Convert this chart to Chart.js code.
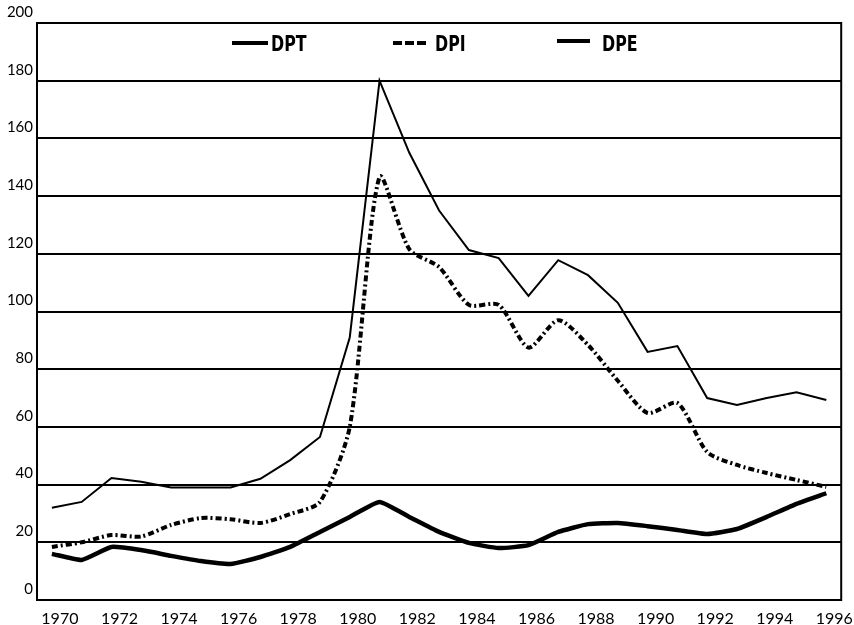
<!DOCTYPE html>
<html>
<head>
<meta charset="utf-8">
<title>DPT / DPI / DPE 1970-1996</title>
<script src="https://cdn.jsdelivr.net/npm/chart.js@4/dist/chart.umd.min.js"></script>
<style>
  html, body { margin: 0; padding: 0; background: #fff; }
  #chart { display: block; }
</style>
</head>
<body>
<canvas id="chart" width="854" height="625"></canvas>
<script>
'use strict';

// Data
const years = ['1970','1971','1972','1973','1974','1975','1976','1977','1978','1979',
               '1980','1981','1982','1983','1984','1985','1986','1987','1988','1989',
               '1990','1991','1992','1993','1994','1995','1996'];
const tickYears = ['1970','1972','1974','1976','1978','1980','1982','1984','1986','1988','1990','1992','1994','1996'];
const seriesNames = ['DPT', 'DPI', 'DPE'];
const dpt = [32, 34, 42.3, 41, 39, 39, 39, 42, 48.5, 56.5,
             91, 180, 155, 135, 121.3, 118.5, 105.4, 117.8, 112.6, 103,
             86, 88, 70, 67.6, 70, 72, 69.3];
const dpi = [18.4, 20, 22.5, 22, 26, 28.4, 28, 26.7, 29.8, 34,
             60, 146.6, 121.6, 115.4, 102.3, 102.3, 87.5, 97, 88.4, 76,
             64.8, 68.3, 51.3, 46.8, 44, 41.6, 39.2];
const dpe = [16, 13.9, 18.4, 17.3, 15.3, 13.5, 12.5, 14.9, 18.4, 23.6,
             28.8, 34, 28.8, 23.6, 19.8, 18, 19, 23.6, 26.3, 26.7,
             25.6, 24.3, 22.9, 24.6, 28.8, 33.3, 37];

const tickFont = { family: 'Lato, "Open Sans", sans-serif', size: 15 };
const legendFont = 'bold 22px "Liberation Sans Narrow", "DejaVu Sans Condensed", Lato, sans-serif';

// frame around the plot area
const framePlugin = {
    id: 'frame',
    afterDraw(chart) {
        const a = chart.chartArea, ctx = chart.ctx;
        ctx.save();
        ctx.strokeStyle = '#000';
        ctx.lineWidth = 2;
        ctx.strokeRect(a.left, a.top, a.right - a.left, a.bottom - a.top);
        ctx.restore();
    }
};

// legend drawn inside the plot, along the top (text squeezed to look condensed)
const legendPlugin = {
    id: 'innerLegend',
    afterDraw(chart) {
        const a = chart.chartArea, ctx = chart.ctx;
        const items = [
            { x: 195, w: 36, dash: [], y: 43, gap: 3 },
            { x: 356, w: 34, dash: [9, 3], y: 43, gap: 8 },
            { x: 520, w: 33, dash: [], y: 41, gap: 12 }
        ];
        chart.data.datasets.forEach((ds, i) => {
            const it = items[i];
            const x0 = a.left + it.x;
            ctx.save();
            ctx.beginPath();
            ctx.strokeStyle = '#000';
            ctx.lineWidth = 4;
            ctx.setLineDash(it.dash);
            ctx.moveTo(x0, it.y);
            ctx.lineTo(x0 + it.w, it.y);
            ctx.stroke();
            ctx.setLineDash([]);
            ctx.translate(x0 + it.w + it.gap, 45);
            ctx.scale(0.8, 1);
            ctx.fillStyle = '#000';
            ctx.font = legendFont;
            ctx.textBaseline = 'middle';
            ctx.textAlign = 'left';
            ctx.fillText(ds.label, 0, 0);
            ctx.restore();
        });
    }
};

new Chart(document.getElementById('chart'), {
    type: 'line',
    data: {
        labels: years,
        datasets: [
            { label: seriesNames[0], data: dpt, borderColor: '#000', borderWidth: 2, tension: 0 },
            { label: seriesNames[1], data: dpi, borderColor: '#000', borderWidth: 4, borderDash: [6, 3, 2, 3], tension: 0.25 },
            { label: seriesNames[2], data: dpe, borderColor: '#000', borderWidth: 4.5, tension: 0.15 }
        ]
    },
    options: {
        responsive: false,
        devicePixelRatio: 1,
        animation: false,
        layout: { padding: { top: 23, right: 7, left: 0, bottom: 0 } },
        elements: { point: { radius: 0 }, line: { fill: false, borderCapStyle: 'butt' } },
        plugins: { legend: { display: false }, tooltip: { enabled: false } },
        scales: {
            x: {
                type: 'category',
                offset: true,
                grid: { display: false, drawTicks: false },
                border: { display: false },
                afterFit: s => { s.height = 25; },
                ticks: {
                    autoSkip: false,
                    maxRotation: 0,
                    padding: 9,
                    labelOffset: 8,
                    color: '#000',
                    font: { family: 'Lato, "Open Sans", sans-serif', size: 16 },
                    callback: (v, i) => tickYears.includes(years[i]) ? years[i] : ''
                }
            },
            y: {
                min: 0,
                max: 200,
                grid: { color: '#000', lineWidth: 2, drawTicks: false },
                border: { display: false },
                afterFit: s => { s.width = 37; },
                ticks: {
                    stepSize: 20,
                    padding: 4,
                    labelOffset: -11,
                    color: '#000',
                    font: tickFont
                }
            }
        }
    },
    plugins: [framePlugin, legendPlugin]
});
</script>
</body>
</html>
